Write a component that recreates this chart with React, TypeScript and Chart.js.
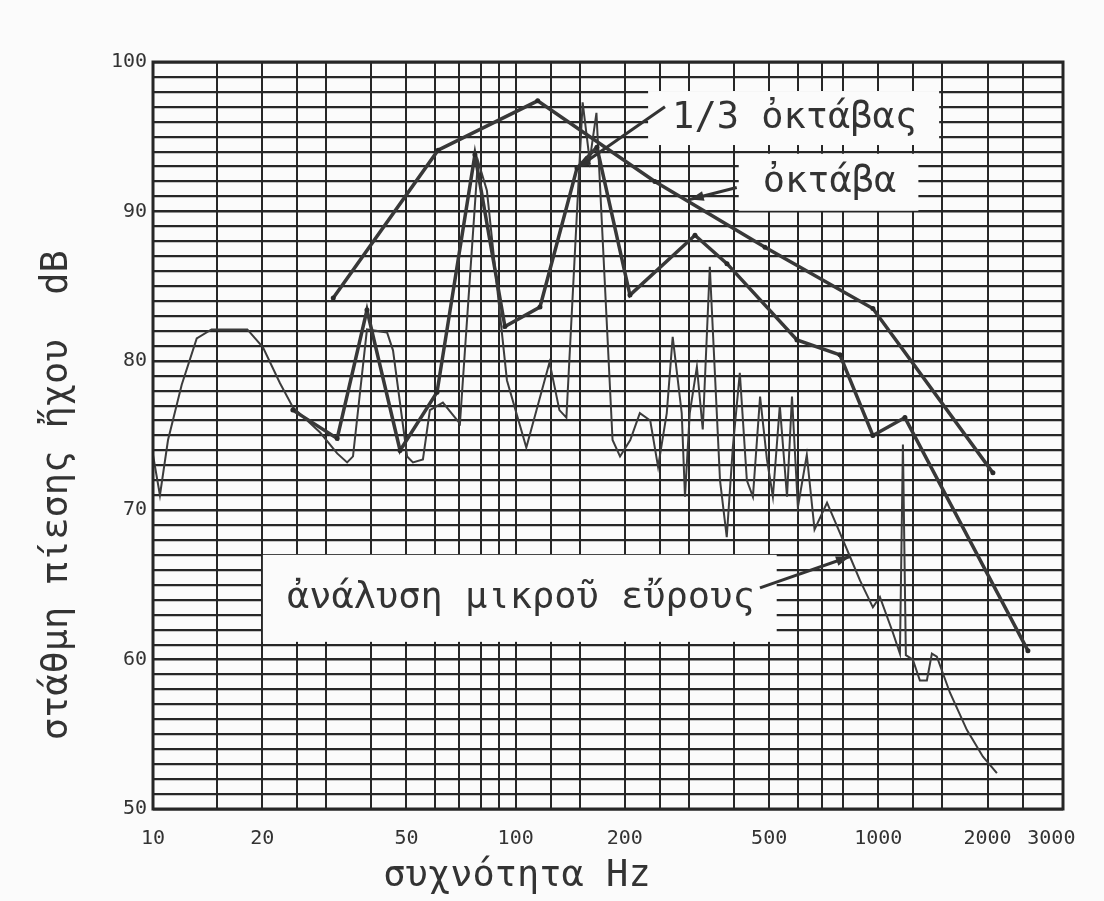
import { useEffect, useRef } from "react"
import { Chart, registerables } from "chart.js"
import type { Plugin } from "chart.js"

Chart.register(...registerables)

// οκτάβα (top curve)
const octaveHz = [31.4, 61.1, 115, 242, 487, 966, 2070]
const octaveDb = [84.2, 94.1, 97.4, 92.0, 87.6, 83.5, 72.5]

// 1/3 οκτάβας
const thirdHz = [24.3, 32.2, 38.9, 48.0, 60.7, 77.2, 93.4, 116.7, 147.6, 167.5, 206.6, 312.2, 382.5, 596.6, 783.6, 966, 1184, 2585]
const thirdDb = [76.7, 74.8, 83.4, 74.0, 77.9, 93.8, 82.3, 83.6, 92.9, 94.3, 84.4, 88.4, 86.5, 81.4, 80.4, 75.0, 76.2, 60.6]

// ανάλυση μικρού εύρους (narrow band)
const narrowHz = [
  10.0, 10.45, 11.0, 12.0, 13.2, 14.5, 18.2, 20.1, 22.4, 24.3,
  28.9, 32.2, 34.3, 35.6, 38.9, 44.2, 45.9, 50.2, 52.1, 55.5,
  58.0, 63.0, 70.2, 78.7, 83.3, 94.6, 107, 124, 132, 138,
  153, 160, 167, 185, 194, 207, 220, 235, 247, 261,
  271, 287, 293, 302, 316, 328, 343, 366, 382, 397,
  415, 434, 451, 472, 493, 512, 535, 560, 578, 600,
  635, 667, 722, 799, 835, 890, 966, 1010, 1097, 1147,
  1169, 1191, 1245, 1302, 1361, 1405, 1450, 1575, 1754, 1943,
  2123,
]
const narrowDb = [
  73.7, 71.0, 74.7, 78.4, 81.5, 82.1, 82.1, 80.9, 78.5, 76.9,
  75.2, 73.8, 73.2, 73.6, 82.1, 81.9, 80.7, 73.6, 73.2, 73.4,
  76.7, 77.2, 75.8, 93.4, 91.4, 78.7, 74.2, 79.9, 76.7, 76.2,
  97.3, 93.4, 96.6, 74.7, 73.6, 74.7, 76.5, 76.0, 72.9, 76.5,
  81.6, 76.5, 70.9, 76.5, 79.6, 75.4, 86.3, 72.0, 68.2, 74.2,
  79.2, 72.0, 70.9, 77.6, 73.4, 70.9, 77.0, 70.9, 77.6, 70.2,
  73.7, 68.7, 70.5, 68.0, 66.9, 65.3, 63.5, 64.2, 61.8, 60.4,
  74.4, 60.3, 60.0, 58.6, 58.6, 60.4, 60.2, 57.8, 55.3, 53.5,
  52.4,
]

// vertical rulings of the paper and the labelled frequencies
const xGridHz = [10, 15, 20, 25, 30, 40, 50, 60, 70, 80, 90, 100, 125, 150, 200, 250, 300, 400, 500, 600, 700, 800, 1000, 1250, 1500, 2000, 2500]
const xTickLabels = [10, 20, 50, 100, 200, 500, 1000, 2000, 3000]
const yTickLabels = [50, 60, 70, 80, 90, 100]

const paper = "#fbfbfb"
const ink = "#333333"
const gridInk = "#262626"
const mono = "'DejaVu Sans Mono', 'DejaVu Sans', monospace"

// callouts: text left edge / centre in (Hz, dB), leader from -> to in (Hz, dB)
const callouts = [
  { text: "1/3 ὀκτάβας", x: 270, y: 96.25, h: 54, from: [258, 97.0], to: [147.6, 92.9] },
  { text: "ὀκτάβα", x: 480, y: 91.95, h: 57, from: [407, 91.6], to: [302, 90.8] },
  { text: "ἀνάλυση μικροῦ εὔρους", x: 23.4, y: 64.1, h: 87, from: [471.6, 64.8], to: [835, 66.9] },
]

const toPoints = (xs: number[], ys: number[]) => xs.map((x, i) => ({ x, y: ys[i] }))

const paperPlugin: Plugin = {
  id: "paper",
  beforeDraw(chart) {
    const { ctx, width, height } = chart
    ctx.save()
    ctx.fillStyle = paper
    ctx.fillRect(0, 0, width, height)
    ctx.restore()
  },
  beforeDatasetsDraw(chart) {
    // blank boxes behind the callout texts
    const { ctx } = chart
    const x = chart.scales.x
    const y = chart.scales.y
    ctx.save()
    ctx.font = `37px ${mono}`
    ctx.fillStyle = paper
    for (const c of callouts) {
      const left = x.getPixelForValue(c.x)
      const cy = y.getPixelForValue(c.y)
      const w = ctx.measureText(c.text).width
      ctx.fillRect(left - 24, cy - c.h / 2, w + 46, c.h)
    }
    ctx.restore()
  },
  afterDatasetsDraw(chart) {
    const { ctx, chartArea } = chart
    const x = chart.scales.x
    const y = chart.scales.y
    ctx.save()

    // frame
    ctx.strokeStyle = gridInk
    ctx.lineWidth = 3
    ctx.strokeRect(chartArea.left, chartArea.top, chartArea.right - chartArea.left, chartArea.bottom - chartArea.top)

    // callout texts and leaders
    ctx.font = `37px ${mono}`
    ctx.fillStyle = ink
    ctx.strokeStyle = ink
    ctx.textBaseline = "middle"
    ctx.textAlign = "left"
    for (const c of callouts) {
      ctx.fillText(c.text, x.getPixelForValue(c.x), y.getPixelForValue(c.y))
      const x0 = x.getPixelForValue(c.from[0])
      const y0 = y.getPixelForValue(c.from[1])
      const x1 = x.getPixelForValue(c.to[0])
      const y1 = y.getPixelForValue(c.to[1])
      ctx.lineWidth = 3
      ctx.beginPath()
      ctx.moveTo(x0, y0)
      ctx.lineTo(x1, y1)
      ctx.stroke()
      const a = Math.atan2(y1 - y0, x1 - x0)
      ctx.beginPath()
      ctx.moveTo(x1, y1)
      ctx.lineTo(x1 - 14 * Math.cos(a) + 5 * Math.sin(a), y1 - 14 * Math.sin(a) - 5 * Math.cos(a))
      ctx.lineTo(x1 - 14 * Math.cos(a) - 5 * Math.sin(a), y1 - 14 * Math.sin(a) + 5 * Math.cos(a))
      ctx.closePath()
      ctx.fill()
    }

    // axis titles
    const w = chartArea.right - chartArea.left
    const h = chartArea.bottom - chartArea.top
    ctx.textAlign = "center"
    ctx.fillText("συχνότητα Hz", chartArea.left + 0.4 * w, chartArea.bottom + 67)
    ctx.translate(chartArea.left - 96, chartArea.top + 0.58 * h)
    ctx.rotate(-Math.PI / 2)
    ctx.fillText("στάθμη πίεσης ἤχου  dB", 0, 0)
    ctx.restore()
  },
}

export default function App() {
  const canvasRef = useRef<HTMLCanvasElement>(null)

  useEffect(() => {
    if (!canvasRef.current) return

    const chart = new Chart(canvasRef.current, {
      type: "line",
      data: {
        datasets: [
          {
            label: "οκτάβα",
            data: toPoints(octaveHz, octaveDb),
            borderColor: "#383838",
            borderWidth: 3.5,
            pointRadius: 2.5,
            pointBackgroundColor: "#2a2a2a",
            pointBorderWidth: 0,
            tension: 0,
          },
          {
            label: "1/3 οκτάβας",
            data: toPoints(thirdHz, thirdDb),
            borderColor: "#383838",
            borderWidth: 3.5,
            pointRadius: 2.5,
            pointBackgroundColor: "#2a2a2a",
            pointBorderWidth: 0,
            tension: 0,
          },
          {
            label: "ανάλυση μικρού εύρους",
            data: toPoints(narrowHz, narrowDb),
            borderColor: "#3c3c3c",
            borderWidth: 2,
            pointRadius: 0,
            tension: 0,
          },
        ],
      },
      options: {
        responsive: false,
        animation: false,
        layout: { padding: { top: 62, right: 41, bottom: 0, left: 0 } },
        plugins: {
          legend: { display: false },
          tooltip: { enabled: false },
        },
        scales: {
          x: {
            type: "logarithmic",
            min: 10,
            max: 3230,
            afterFit: (s) => {
              s.height = 92
            },
            afterBuildTicks: (s) => {
              s.ticks = [...xGridHz, 3000].map((value) => ({ value }))
            },
            border: { display: false },
            grid: {
              drawTicks: false,
              color: (c) => (c.tick && c.tick.value === 3000 ? "rgba(0,0,0,0)" : gridInk),
              lineWidth: 2,
            },
            ticks: {
              autoSkip: false,
              maxRotation: 0,
              padding: 18,
              color: ink,
              font: { family: mono, size: 20 },
              callback: (value) => (xTickLabels.includes(Number(value)) ? String(value) : ""),
            },
          },
          y: {
            min: 50,
            max: 100,
            afterFit: (s) => {
              s.width = 153
            },
            border: { display: false },
            grid: {
              drawTicks: false,
              color: gridInk,
              lineWidth: (c) => (c.tick && c.tick.value % 10 === 0 ? 2.6 : 2.2),
            },
            ticks: {
              stepSize: 1,
              autoSkip: false,
              padding: 6,
              color: ink,
              font: { family: mono, size: 20 },
              callback: (value) => (yTickLabels.includes(Number(value)) ? String(value) : ""),
            },
          },
        },
      },
      plugins: [paperPlugin],
    })

    return () => {
      chart.destroy()
    }
  }, [])

  return (
    <div style={{ position: "fixed", left: 0, top: 0, width: 1104, height: 901, background: paper }}>
      <canvas ref={canvasRef} width={1104} height={901} style={{ display: "block" }} />
    </div>
  )
}
